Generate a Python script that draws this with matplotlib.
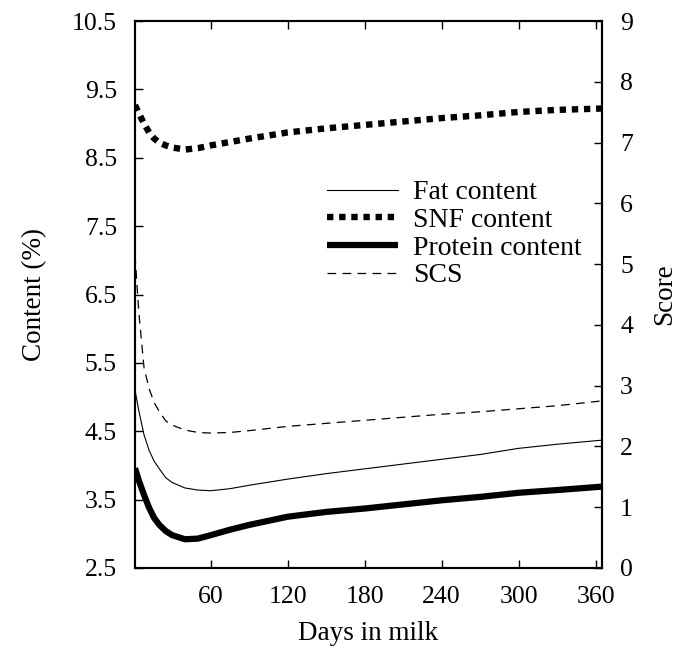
import matplotlib
matplotlib.use("Agg")
import matplotlib.pyplot as plt

plt.rcParams['font.family'] = ['Liberation Serif', 'DejaVu Serif']

# values
days = [1, 4, 8, 12, 16, 20, 25, 30, 40, 50, 60, 75, 90, 120, 150, 180, 210, 240, 270, 300, 330, 365]
fat = [5.10, 4.80, 4.45, 4.22, 4.06, 3.95, 3.82, 3.75, 3.67, 3.64, 3.63, 3.66, 3.71, 3.80, 3.88, 3.95,
       4.02, 4.09, 4.16, 4.25, 4.31, 4.37]
snf = [9.27, 9.15, 9.00, 8.87, 8.78, 8.72, 8.68, 8.65, 8.62, 8.64, 8.68, 8.73, 8.78, 8.87, 8.93, 8.98,
       9.03, 9.08, 9.12, 9.17, 9.20, 9.22]
protein = [3.96, 3.78, 3.57, 3.38, 3.23, 3.13, 3.04, 2.98, 2.92, 2.93, 2.98, 3.06, 3.13, 3.25, 3.32, 3.37,
           3.43, 3.49, 3.54, 3.60, 3.64, 3.69]
scs = [5.15, 4.20, 3.30, 2.95, 2.72, 2.57, 2.42, 2.35, 2.27, 2.23, 2.22, 2.23, 2.26, 2.33, 2.38, 2.43,
       2.48, 2.53, 2.57, 2.62, 2.67, 2.75]

x_ticks = [60, 120, 180, 240, 300, 360]
left_ticks = [2.5, 3.5, 4.5, 5.5, 6.5, 7.5, 8.5, 9.5, 10.5]
right_ticks = list(range(0, 10))

tick_fs = 18.5
label_fs = 19.5

fig = plt.figure(figsize=(6.79, 6.51), dpi=100)
ax = fig.add_axes([135 / 679, 1 - 568 / 651, 467 / 679, 547 / 651])
ax2 = ax.twinx()

l1, = ax.plot(days, fat, color='black', lw=0.8, label='Fat content')
l2, = ax.plot(days, snf, color='black', lw=4.6, linestyle=(0, (1, 0.9)), label='SNF content')
l3, = ax.plot(days, protein, color='black', lw=4.5, solid_capstyle='butt', label='Protein content')
l4, = ax2.plot(days, scs, color='black', lw=0.9, linestyle=(0, (7, 5)), label='SCS')

ax.set_xlim(1, 365)
ax.set_ylim(2.5, 10.5)
ax2.set_ylim(0, 9)
ax.set_xticks(x_ticks)
ax.set_yticks(left_ticks)
ax.set_yticklabels([f"{v:.1f}" for v in left_ticks])
ax2.set_yticks(right_ticks)

ax.tick_params(axis='both', direction='in', length=6, width=1, labelsize=tick_fs, pad=13,
               top=True, right=False)
ax2.tick_params(axis='y', direction='in', length=6, width=1, labelsize=tick_fs, pad=13)

for a in (ax, ax2):
    for s in a.spines.values():
        s.set_linewidth(1.5)

ax.set_xlabel('Days in milk', fontsize=label_fs, labelpad=9)
ax.set_ylabel('Content (%)', fontsize=label_fs, labelpad=18)
ax2.set_ylabel('Score', fontsize=label_fs, labelpad=14)

fig.legend(handles=[l1, l2, l3, l4], loc='upper left', bbox_to_anchor=(327 / 679, 1 - 180 / 651),
           frameon=False, fontsize=20, handlelength=2.55, handletextpad=0.55, labelspacing=0.08,
           borderpad=0, borderaxespad=0)

fig.savefig('out.png', dpi=100)
